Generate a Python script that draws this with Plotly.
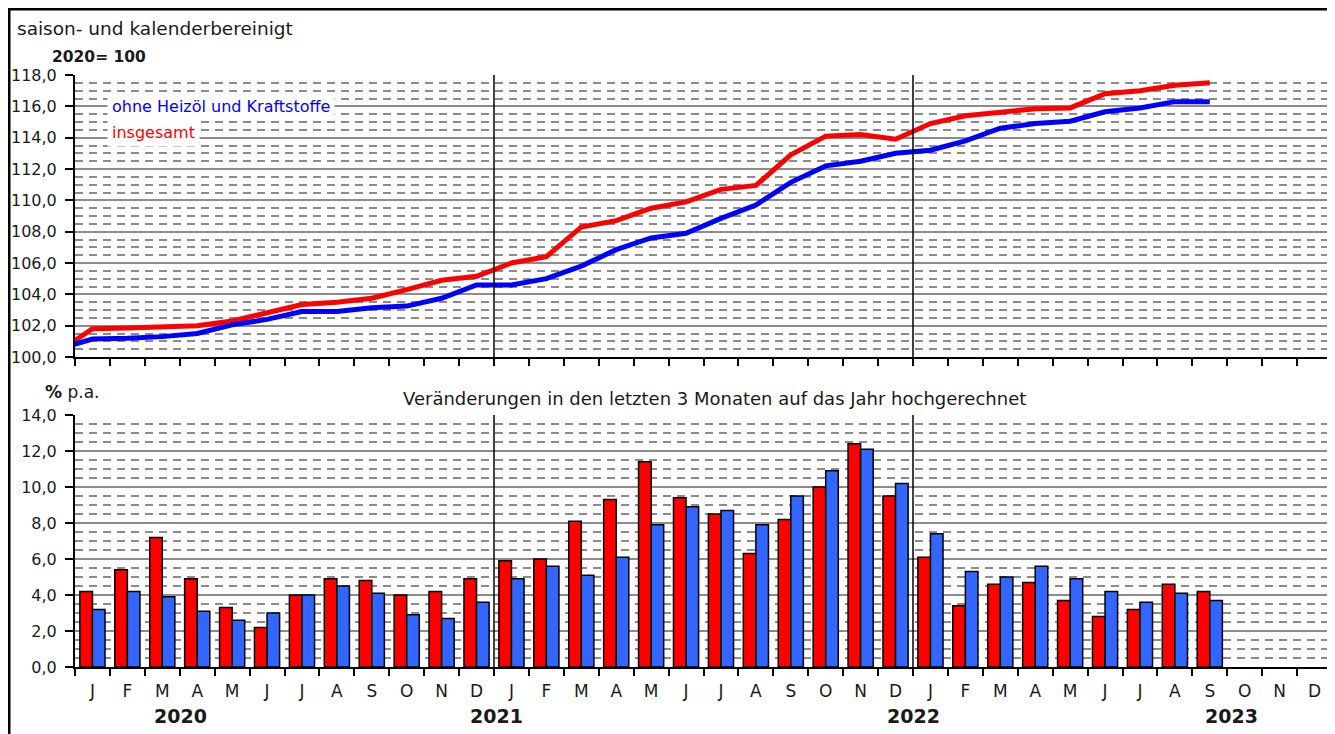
import plotly.graph_objects as go

# ---------------- data ----------------
month_letters = ["J", "F", "M", "A", "M", "J", "J", "A", "S", "O", "N", "D"]
year_labels = ["2020", "2021", "2022", "2023"]
n_months_axis = 36

# Index 2020=100, seasonally & calendar adjusted (first value = month before the axis start)
total_index = [100.3,
               101.8, 101.85, 101.95, 102.0, 102.3, 102.8, 103.35, 103.5, 103.75, 104.3, 104.9, 105.15,
               106.0, 106.4, 108.3, 108.7, 109.5, 109.9, 110.7, 110.95, 112.9, 114.1, 114.2, 113.9,
               114.9, 115.4, 115.6, 115.85, 115.9, 116.8, 117.0, 117.35, 117.5]
core_index = [100.5,
              101.15, 101.2, 101.3, 101.5, 102.05, 102.4, 102.9, 102.9, 103.15, 103.25, 103.75, 104.6,
              104.6, 105.0, 105.8, 106.85, 107.6, 107.9, 108.85, 109.7, 111.15, 112.2, 112.5, 113.0,
              113.2, 113.8, 114.6, 114.9, 115.05, 115.65, 115.9, 116.3, 116.3]

# 3-month changes, annualised (% p.a.)
total_3m = [4.2, 5.4, 7.2, 4.9, 3.3, 2.2, 4.0, 4.9, 4.8, 4.0, 4.2, 4.9,
            5.9, 6.0, 8.1, 9.3, 11.4, 9.4, 8.5, 6.3, 8.2, 10.0, 12.4, 9.5,
            6.1, 3.4, 4.6, 4.7, 3.7, 2.8, 3.2, 4.6, 4.2]
core_3m = [3.2, 4.2, 3.9, 3.1, 2.6, 3.0, 4.0, 4.5, 4.1, 2.9, 2.7, 3.6,
           4.9, 5.6, 5.1, 6.1, 7.9, 8.9, 8.7, 7.9, 9.5, 10.9, 12.1, 10.2,
           7.4, 5.3, 5.0, 5.6, 4.9, 4.2, 3.6, 4.1, 3.7]

label_core = "ohne Heizöl und Kraftstoffe"
label_total = "insgesamt"

# ---------------- layout helpers ----------------
OFF = 8  # page body margin of the html page
W, H = 1335 - OFF, 734 - OFF
# target page pixel positions of the plot area: left 75, right 1332, top 75, bottom 667
ML = 75 - OFF
MT = 75 - OFF
MR = W - (1332 - OFF)
MB = H - (667 - OFF)
PW, PH = W - ML - MR, H - MT - MB


def px_x(p):
    """page pixel x -> paper coordinate"""
    return (p - OFF - ML) / PW


def px_y(p):
    """page pixel y -> paper coordinate"""
    return (H - MB - (p - OFF)) / PH


FONT = "DejaVu Sans, Verdana, sans-serif"
RED = "#ff0000"
BLUE_LINE = "#0000ff"
BLUE_BAR = "#3366ff"
GRID = "#8c8c8c"
TXT = "#1a1a1a"

line_x = list(range(-1, len(total_index) - 1))
bar_x = list(range(len(total_3m)))

fig = go.Figure()
fig.add_trace(go.Scatter(x=line_x, y=total_index, mode="lines", line=dict(color=RED, width=5),
                         xaxis="x", yaxis="y", showlegend=False))
fig.add_trace(go.Scatter(x=line_x, y=core_index, mode="lines", line=dict(color=BLUE_LINE, width=5),
                         xaxis="x", yaxis="y", showlegend=False))
fig.add_trace(go.Bar(x=bar_x, y=total_3m, marker=dict(color=RED, line=dict(color="black", width=1.5)),
                     xaxis="x2", yaxis="y2", showlegend=False))
fig.add_trace(go.Bar(x=bar_x, y=core_3m, marker=dict(color=BLUE_BAR, line=dict(color="black", width=1.5)),
                     xaxis="x2", yaxis="y2", showlegend=False))

boundaries = [k - 0.5 for k in range(n_months_axis + 1)]
xcommon = dict(range=[-0.5, n_months_axis - 0.5], showgrid=False, zeroline=False,
               showline=True, linecolor="black", linewidth=2,
               tickvals=list(range(n_months_axis)), ticktext=month_letters * 3, ticks="",
               minor=dict(tickvals=boundaries, ticks="outside", ticklen=7, tickwidth=1.5, tickcolor="black"),
               tickfont=dict(family=FONT, size=17, color=TXT))

ycommon = dict(showgrid=True, gridcolor=GRID, gridwidth=2, zeroline=False,
               showline=True, linecolor="black", linewidth=2,
               ticks="outside", ticklen=8, tickwidth=1.5, tickcolor="black",
               tickformat=".1f", tickfont=dict(family=FONT, size=16, color=TXT),
               ticklabelstandoff=5)

top_bottom = px_y(357)
bot_top = px_y(415)

fig.update_layout(
    width=W, height=H,
    margin=dict(l=ML, r=MR, t=MT, b=MB),
    paper_bgcolor="white", plot_bgcolor="white",
    separators=", ",
    barmode="group", bargap=0.28, bargroupgap=0,
    xaxis=dict(xcommon, domain=[0, 1], anchor="y", showticklabels=False),
    yaxis=dict(ycommon, domain=[top_bottom, 1], anchor="x", range=[100, 118], dtick=2, tick0=100,
               minor=dict(dtick=0.5, tick0=100, showgrid=True, gridcolor=GRID, gridwidth=2,
                          griddash="8px,6px")),
    xaxis2=dict(xcommon, domain=[0, 1], anchor="y2", ticklabelstandoff=8),
    yaxis2=dict(ycommon, domain=[0, bot_top], anchor="x2", range=[0, 14], dtick=2, tick0=0,
                minor=dict(dtick=0.5, tick0=0, showgrid=True, gridcolor=GRID, gridwidth=2,
                           griddash="8px,6px")),
)

shapes = []
for b in (11.5, 23.5):
    for xr, yr in (("x", "y domain"), ("x2", "y2 domain")):
        shapes.append(dict(type="line", xref=xr, yref=yr, x0=b, x1=b, y0=0, y1=1,
                           line=dict(color="black", width=1.5), layer="above"))
# outer frame
shapes.append(dict(type="rect", xref="paper", yref="paper",
                   x0=px_x(9), x1=px_x(1331), y0=px_y(9), y1=px_y(760),
                   line=dict(color="black", width=3), fillcolor="rgba(0,0,0,0)", layer="above"))
fig.update_layout(shapes=shapes)

ann = []
ann.append(dict(text="saison- und kalenderbereinigt", xref="paper", yref="paper",
                x=px_x(15), y=px_y(28), xanchor="left", yanchor="middle", showarrow=False,
                font=dict(family=FONT, size=18.5, color=TXT)))
ann.append(dict(text="<b>2020= 100</b>", xref="paper", yref="paper",
                x=px_x(50), y=px_y(57), xanchor="left", yanchor="middle", showarrow=False,
                font=dict(family=FONT, size=15.5, color=TXT)))
ann.append(dict(text="<b>%</b> p.a.", xref="paper", yref="paper",
                x=px_x(43), y=px_y(392), xanchor="left", yanchor="middle", showarrow=False,
                font=dict(family=FONT, size=17, color=TXT)))
ann.append(dict(text="Veränderungen in den letzten 3 Monaten auf das Jahr hochgerechnet",
                xref="paper", yref="paper", x=px_x(714), y=px_y(398), xanchor="center",
                yanchor="middle", showarrow=False, font=dict(family=FONT, size=18, color=TXT)))
ann.append(dict(text=label_core, xref="paper", yref="paper", x=px_x(107), y=px_y(106),
                xanchor="left", yanchor="middle", showarrow=False, bgcolor="white", borderpad=4,
                font=dict(family=FONT, size=16, color=BLUE_LINE)))
ann.append(dict(text=label_total, xref="paper", yref="paper", x=px_x(107), y=px_y(132),
                xanchor="left", yanchor="middle", showarrow=False, bgcolor="white", borderpad=4,
                font=dict(family=FONT, size=16, color=RED)))
for lab, cx in zip(year_labels, (180.5, 497, 913, 1231)):
    ann.append(dict(text="<b>" + lab + "</b>", xref="paper", yref="paper", x=px_x(cx), y=px_y(716),
                    xanchor="center", yanchor="middle", showarrow=False,
                    font=dict(family=FONT, size=19, color=TXT)))
fig.update_layout(annotations=ann)

fig.write_html("out.html")
